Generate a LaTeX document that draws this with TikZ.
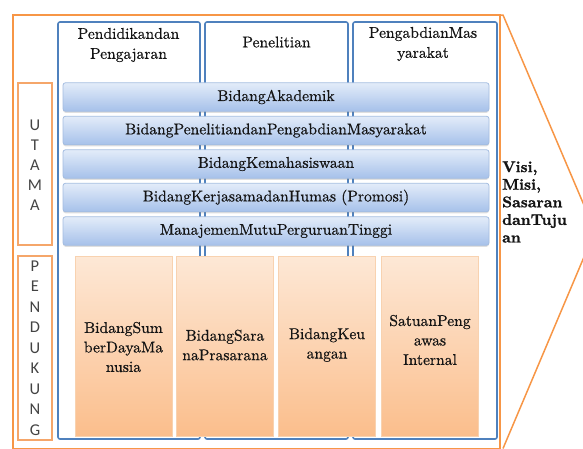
\documentclass[tikz,border=0pt]{standalone}
\usepackage{fontspec}
\newfontfamily\lmten{lmroman10-regular.otf}[FakeBold=0.6]
\newfontfamily\lmbold{lmroman10-bold.otf}[FakeBold=1.2]
\newfontfamily\lettersf{Carlito}
\usetikzlibrary{shadows}

\definecolor{frameorange}{HTML}{F79646}
\definecolor{boxorange}{HTML}{F5A66A}
\definecolor{colblue}{HTML}{4F81BD}
\definecolor{barline}{HTML}{A3BCE0}
\definecolor{bartop}{HTML}{E3ECF9}
\definecolor{barbot}{HTML}{A6C1EA}
\definecolor{peachline}{HTML}{F8D2B0}
\definecolor{peachtop}{HTML}{FDE8D6}
\definecolor{peachbot}{HTML}{FBBE8C}
\definecolor{ink}{HTML}{141414}

\tikzset{
  colbox/.style={draw=colblue, line width=1.6pt, rounded corners=2pt},
  headtext/.style={align=center, text=ink, font=\lmten\fontsize{15.6}{20}\selectfont},
  bar/.style={draw=barline, line width=0.8pt, rounded corners=2.5pt,
    top color=bartop, bottom color=barbot,
    drop shadow={shadow xshift=0pt, shadow yshift=-1.5pt, opacity=0.25},
    minimum width=426pt, minimum height=28.5pt, inner sep=0pt,
    text=ink, font=\lmten\fontsize{15.6}{20}\selectfont},
  unitbox/.style={draw=peachline, line width=0.8pt,
    top color=peachtop, bottom color=peachbot,
    drop shadow={shadow xshift=0.8pt, shadow yshift=-0.8pt, opacity=0.2},
    minimum width=97pt, minimum height=180pt, inner sep=0pt},
  unittext/.style={align=center, text=ink, font=\lmten\fontsize{15.6}{19.5}\selectfont},
  sidebox/.style={draw=boxorange, line width=1.5pt},
  sideletters/.style={align=center, text=ink!80, font=\lettersf\fontsize{16.5}{20}\selectfont},
  frame/.style={draw=frameorange, line width=1.5pt, line join=miter}
}

\begin{document}
\begin{tikzpicture}[x=1pt, y=-1pt]
  \useasboundingbox (0,0) rectangle (583,448);
  \clip (0,0) rectangle (583,448);

  % outer frame with the arrow head on the right
  \draw[frame] (13,15) rectangle (500,448.5);
  \draw[frame] (500,15) -- (503,15) -- (595,231) -- (503,448.5);

  % three pillar columns
  \draw[colbox] (58,22) rectangle (200,439);
  \draw[colbox] (205,22) rectangle (348,439);
  \draw[colbox] (353,22) rectangle (497,439);

  \node[headtext] (h1) at (128.5,45) {Pendidikandan\\Pengajaran};
  \node[headtext] (h2) at (276.5,42) {Penelitian};
  \node[headtext] (h3) at (423,44) {PengabdianMas\\yarakat};

  % main units
  \node[bar] (b1) at (276,97)    {BidangAkademik};
  \node[bar] (b2) at (276,130.5) {BidangPenelitiandanPengabdianMasyarakat};
  \node[bar] (b3) at (276,164)   {BidangKemahasiswaan};
  \node[bar] (b4) at (276,197.5) {BidangKerjasamadanHumas (Promosi)};
  \node[bar] (b5) at (276,231)   {ManajemenMutuPerguruanTinggi};

  % supporting units
  \node[unitbox] (u1) at (123.5,346) {};
  \node[unitbox] (u2) at (225,346) {};
  \node[unitbox] (u3) at (327,346) {};
  \node[unitbox] (u4) at (430,346) {};
  \node[unittext] (t1) at (123.5,347) {BidangSum\\berDayaMa\\nusia};
  \node[unittext] (t2) at (225,345) {BidangSara\\naPrasarana};
  \node[unittext] (t3) at (327,345) {BidangKeu\\angan};
  \node[unittext] (t4) at (430,340) {SatuanPeng\\awas\\Internal};

  % side labels
  \draw[sidebox] (18,83) rectangle (52,245);
  \draw[sidebox] (18,256) rectangle (52,440);
  \node[sideletters] (utama) at (35,165) {U\\T\\A\\M\\A};
  \node[sideletters, font=\lettersf\fontsize{16.5}{20.5}\selectfont] (pendukung) at (35,348)
    {P\\E\\N\\D\\U\\K\\U\\N\\G};

  % goals
  \node[anchor=west, align=left, text=ink, inner sep=0pt,
        font=\lmbold\fontsize{15.5}{17.6}\selectfont] (visi) at (502,202)
    {Visi,\\Misi,\\Sasaran\\danTuju\\an};
\end{tikzpicture}
\end{document}
